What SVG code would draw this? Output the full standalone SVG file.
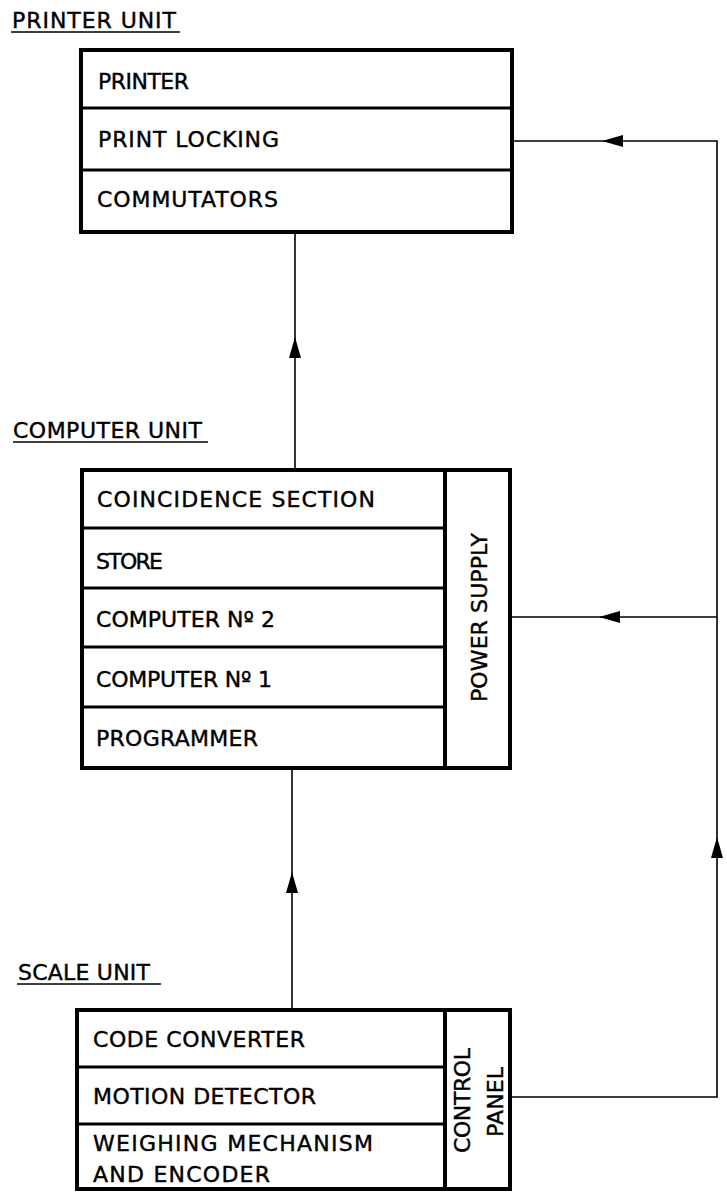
<svg xmlns="http://www.w3.org/2000/svg" width="727" height="1197" viewBox="0 0 727 1197">
<style>
.box{fill:none;stroke:#000;stroke-width:4;stroke-linejoin:miter}
.div{stroke:#000;stroke-width:3}
.col{stroke:#000;stroke-width:4}
.t{font-family:"DejaVu Sans","Liberation Sans",sans-serif;font-size:22px;fill:#000;stroke:#000;stroke-width:0.4}
.ul{stroke:#000;stroke-width:1.6}
.con{fill:none;stroke:#000;stroke-width:1.6}
.ah{fill:#000;stroke:none}
</style>
<rect width="727" height="1197" fill="#fff"/>

<g id="printer-unit">
<text class="t" x="12" y="28" textLength="164" lengthAdjust="spacing">PRINTER UNIT</text>
<line class="ul" x1="11" y1="32" x2="180" y2="32"/>
<rect class="box" x="81" y="50" width="431" height="182"/>
<line class="div" x1="81" y1="108" x2="512" y2="108"/>
<line class="div" x1="81" y1="170" x2="512" y2="170"/>
<text class="t" x="98" y="89" textLength="91" lengthAdjust="spacing">PRINTER</text>
<text class="t" x="98" y="147" textLength="181" lengthAdjust="spacing">PRINT LOCKING</text>
<text class="t" x="97" y="207" textLength="181" lengthAdjust="spacing">COMMUTATORS</text>
</g>

<g id="computer-unit">
<text class="t" x="13" y="438" textLength="189" lengthAdjust="spacing">COMPUTER UNIT</text>
<line class="ul" x1="13" y1="442" x2="208" y2="442"/>
<rect class="box" x="82" y="470" width="428" height="298"/>
<line class="col" x1="445" y1="470" x2="445" y2="768"/>
<line class="div" x1="82" y1="528" x2="445" y2="528"/>
<line class="div" x1="82" y1="588" x2="445" y2="588"/>
<line class="div" x1="82" y1="647" x2="445" y2="647"/>
<line class="div" x1="82" y1="707" x2="445" y2="707"/>
<text class="t" x="97" y="507" textLength="278" lengthAdjust="spacing">COINCIDENCE SECTION</text>
<text class="t" x="96" y="569" textLength="67" lengthAdjust="spacing">STORE</text>
<text class="t" x="96" y="627" textLength="179" lengthAdjust="spacing">COMPUTER Nº 2</text>
<text class="t" x="96" y="687" textLength="176" lengthAdjust="spacing">COMPUTER Nº 1</text>
<text class="t" x="96" y="746" textLength="162" lengthAdjust="spacing">PROGRAMMER</text>
<text class="t" transform="translate(487,702) rotate(-90)" x="0" y="0" textLength="169" lengthAdjust="spacing">POWER SUPPLY</text>
</g>

<g id="scale-unit">
<text class="t" x="18" y="980" textLength="132" lengthAdjust="spacing">SCALE UNIT</text>
<line class="ul" x1="17" y1="984" x2="161" y2="984"/>
<rect class="box" x="77" y="1010" width="433" height="179"/>
<line class="col" x1="445" y1="1010" x2="445" y2="1189"/>
<line class="div" x1="77" y1="1067" x2="445" y2="1067"/>
<line class="div" x1="77" y1="1124" x2="445" y2="1124"/>
<text class="t" x="93" y="1047" textLength="212" lengthAdjust="spacing">CODE CONVERTER</text>
<text class="t" x="93" y="1104" textLength="223" lengthAdjust="spacing">MOTION DETECTOR</text>
<text class="t" x="93" y="1151" textLength="280" lengthAdjust="spacing">WEIGHING MECHANISM</text>
<text class="t" x="93" y="1182" textLength="177" lengthAdjust="spacing">AND ENCODER</text>
<text class="t" transform="translate(470,1153) rotate(-90)" x="0" y="0" textLength="105" lengthAdjust="spacing">CONTROL</text>
<text class="t" transform="translate(503,1137) rotate(-90)" x="0" y="0" textLength="70" lengthAdjust="spacing">PANEL</text>
</g>

<g id="connectors">
<line class="con" x1="295" y1="232" x2="295" y2="470"/>
<polygon class="ah" points="295,337 289,358 301,358"/>
<line class="con" x1="292" y1="768" x2="292" y2="1010"/>
<polygon class="ah" points="292,872 286,893 298,893"/>
<polyline class="con" points="512,1097 717,1097 717,141 512,141"/>
<polygon class="ah" points="717,837 711,858 723,858"/>
<polygon class="ah" points="602,141 623,135 623,147"/>
<line class="con" x1="510" y1="617" x2="717" y2="617"/>
<polygon class="ah" points="599,617 620,611 620,623"/>
</g>
</svg>
